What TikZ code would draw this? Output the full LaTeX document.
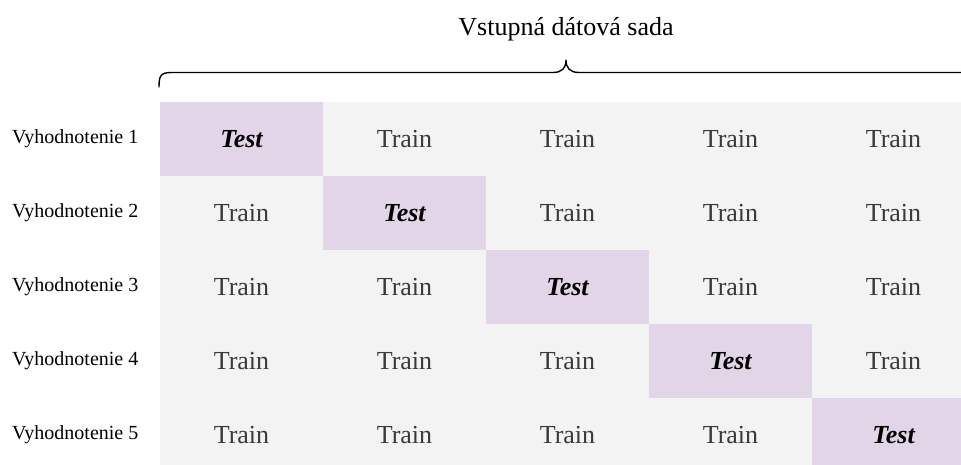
\documentclass[tikz,border=0pt]{standalone}
\usepackage{fontspec}
\setmainfont{Liberation Serif}
\definecolor{trainbg}{HTML}{F3F3F3}
\definecolor{testbg}{HTML}{E1D5E7}
\definecolor{traintext}{HTML}{3A3A3A}
\begin{document}
\begin{tikzpicture}[x=1pt,y=-1pt,
  cell/.style={inner sep=0pt,minimum width=163pt,minimum height=74pt,
    font=\fontsize{26}{30}\selectfont},
  traincell/.style={cell,text=traintext},
  testcell/.style={cell,fill=testbg,font=\fontsize{26}{30}\selectfont\bfseries\itshape},
  rowlabel/.style={anchor=west,inner sep=0pt,font=\fontsize{20}{24}\selectfont},
  title/.style={inner sep=0pt,font=\fontsize{26}{30}\selectfont},
  bracket/.style={line width=1.4pt,line cap=round,line join=round}]
\useasboundingbox (0,0) rectangle (961,465);
\clip (0,0) rectangle (961,465);
% grey background of the whole grid
\fill[trainbg] (160,102) rectangle (975,472);
% grid cells: diagonal holds the test fold
\foreach \r in {1,...,5}{
  \node[rowlabel] (lab\r) at (12,{102+74*(\r-0.5)}) {Vyhodnotenie \r};
  \foreach \c in {1,...,5}{
    \ifnum\r=\c
      \node[testcell] (c\r\c) at ({160+163*(\c-0.5)},{102+74*(\r-0.5)}) {Test};
    \else
      \node[traincell] (c\r\c) at ({160+163*(\c-0.5)},{102+74*(\r-0.5)}) {Train};
    \fi
  }
}
% curly bracket over the dataset
\coordinate (bl) at (159,87);
\coordinate (br) at (973,87);
\coordinate (tip) at (566,60);
\draw[bracket] (bl) .. controls (159,75) and (161,72.5) .. (172,72.5)
  -- (553,72.5) .. controls (562,72.5) and (566,68) .. (tip)
  .. controls (566,68) and (570,72.5) .. (579,72.5)
  -- (960,72.5) .. controls (971,72.5) and (973,75) .. (br);
\node[title] (title) at (566,29) {Vstupná dátová sada};
\end{tikzpicture}
\end{document}
